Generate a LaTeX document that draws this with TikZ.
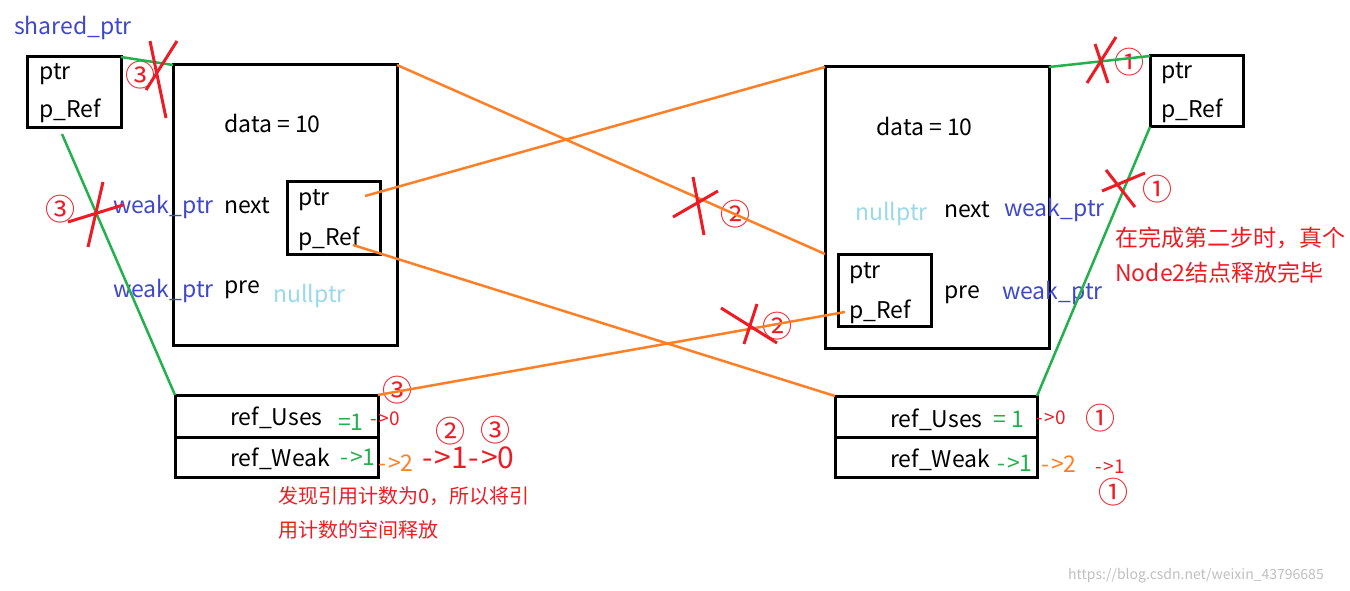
\documentclass[tikz,border=0pt]{standalone}
\usepackage{fontspec}
\setmainfont{Noto Sans CJK SC}
\usetikzlibrary{positioning}
\definecolor{ptrblue}{RGB}{63,72,204}
\definecolor{nullblue}{RGB}{153,217,234}
\definecolor{lgreen}{RGB}{34,177,76}
\definecolor{lorange}{RGB}{255,127,39}
\definecolor{lred}{RGB}{237,28,36}
\newcommand{\stepto}{-\kern2pt>}
\begin{document}
\begin{tikzpicture}[x=1pt, y=-1pt,
    box/.style={draw, line width=3pt, inner sep=0pt, outer sep=0pt, anchor=north west},
    txt/.style={inner sep=0pt, anchor=base west, font=\fontsize{23}{27}\selectfont},
    ptrtxt/.style={txt, text=ptrblue},
    nulltxt/.style={txt, text=nullblue},
    note/.style={txt, text=lred},
    num/.style={inner sep=0pt, text=lred, font=\fontsize{30}{32}\selectfont},
    glink/.style={draw=lgreen, line width=2.5pt},
    olink/.style={draw=lorange, line width=2.5pt},
    cross/.style={draw=lred, line width=3pt}]
    \useasboundingbox (0,0) rectangle (1350,591);

    % boxes
    \node[box, minimum width=94pt, minimum height=71pt] (S1) at (27,57) {};
    \node[box, minimum width=224pt, minimum height=280pt] (N1) at (173,65) {};
    \node[box, minimum width=93pt, minimum height=72pt] (I1) at (287,182) {};
    \node[box, minimum width=203pt, minimum height=42pt] (U1) at (175,395) {};
    \node[box, minimum width=203pt, minimum height=40pt] (W1) at (175,437) {};
    \node[box, minimum width=224pt, minimum height=281pt] (N2) at (825,67) {};
    \node[box, minimum width=93pt, minimum height=72pt] (I2) at (838,254) {};
    \node[box, minimum width=93pt, minimum height=71pt] (S2) at (1150,56) {};
    \node[box, minimum width=202pt, minimum height=41pt] (U2) at (835,396) {};
    \node[box, minimum width=202pt, minimum height=40pt] (W2) at (835,437) {};

    % left side texts
    \node[ptrtxt] (sh) at (14,35) {shared\_ptr};
    \node[txt] (s1p) at (39,80) {ptr};
    \node[txt] (s1r) at (39,118) {p\_Ref};
    \node[txt] (d1) at (224,133) {data = 10};
    \node[ptrtxt] (wn1) at (113,214) {weak\_ptr};
    \node[txt] (nx1) at (224,213) {next};
    \node[txt] (i1p) at (298,205) {ptr};
    \node[txt] (i1r) at (298,245) {p\_Ref};
    \node[ptrtxt] (wp1) at (113,297) {weak\_ptr};
    \node[txt] (pr1) at (224,293) {pre};
    \node[nulltxt] (nl1) at (273,302) {nullptr};
    \node[txt] (ru1) at (230,425) {ref\_Uses};
    \node[txt] (rw1) at (230,466) {ref\_Weak};
    \node[txt, text=lgreen] (cu1) at (338,430) {=1};
    \node[txt, text=lred, font=\fontsize{19}{21}\selectfont] (cu1b) at (370,425) {\stepto0};
    \node[txt, text=lgreen] (cw1) at (340,465) {\stepto1};
    \node[txt, text=lorange] (cw1b) at (378,471) {\stepto2};
    \node[txt, text=lred, font=\fontsize{30}{32}\selectfont] (cw1c) at (422,468) {\stepto1\kern1pt\stepto0};
    \node[note, font=\fontsize{20}{24}\selectfont] (m1) at (278,503) {发现引用计数为0，所以将引};
    \node[note, font=\fontsize{20}{24}\selectfont] (m2) at (278,537) {用计数的空间释放};

    % right side texts
    \node[txt] (d2) at (876,136) {data = 10};
    \node[nulltxt] (nl2) at (855,220) {nullptr};
    \node[txt] (nx2) at (944,217) {next};
    \node[ptrtxt] (wn2) at (1004,216) {weak\_ptr};
    \node[txt] (i2p) at (849,278) {ptr};
    \node[txt] (i2r) at (849,318) {p\_Ref};
    \node[txt] (pr2) at (944,298) {pre};
    \node[ptrtxt] (wp2) at (1002,299) {weak\_ptr};
    \node[txt] (s2p) at (1161,79) {ptr};
    \node[txt] (s2r) at (1161,118) {p\_Ref};
    \node[txt] (ru2) at (890,427) {ref\_Uses};
    \node[txt] (rw2) at (890,467) {ref\_Weak};
    \node[txt, text=lgreen] (cu2) at (993,427) {= 1};
    \node[txt, text=lred, font=\fontsize{19}{21}\selectfont] (cu2b) at (1036,424) {\stepto0};
    \node[txt, text=lgreen] (cw2) at (997,471) {\stepto1};
    \node[txt, text=lorange] (cw2b) at (1041,472) {\stepto2};
    \node[txt, text=lred, font=\fontsize{19}{21}\selectfont] (cw2c) at (1095,473) {\stepto1};
    \node[note] (m3) at (1115,246) {在完成第二步时，真个};
    \node[note] (m4) at (1115,281) {Node2结点释放完毕};

    % step numbers
    \node[num] (k1) at (140,75) {③};
    \node[num] (k2) at (60,209) {③};
    \node[num] (k3) at (397,390) {③};
    \node[num] (k4) at (450,431) {②};
    \node[num] (k5) at (495,430) {③};
    \node[num] (k6) at (735,214) {②};
    \node[num] (k7) at (777,326) {②};
    \node[num] (k8) at (1129,62) {①};
    \node[num] (k9) at (1157,189) {①};
    \node[num] (k10) at (1100,418) {①};
    \node[num] (k11) at (1113,492) {①};

    \node[txt, text=black!25, font=\fontsize{14}{16}\selectfont] (wm) at (1068,579) {https://blog.csdn.net/weixin\_43796685};

    % link ends
    \coordinate (s1b) at (62,134);
    \coordinate (i1pe) at (365,196);
    \coordinate (i1re) at (353,245);
    \coordinate (i2re) at (845,312);

    % green links
    \draw[glink] (S1.north east) -- (N1.north west);
    \draw[glink] (s1b) -- (U1.north west);
    \draw[glink] (N2.north east) -- (S2.north west);
    \draw[glink] (S2.south west) -- (U2.north east);

    % orange links
    \draw[olink] (N1.north east) -- (N2.west |- I2.north);
    \draw[olink] (i1pe) -- (N2.north west);
    \draw[olink] (i1re) -- (U2.north west);
    \draw[olink] (i2re) -- (U1.north east);

    % crosses
    \draw[cross] (150,41) -- (166,118);
    \draw[cross] (177,41) -- (146,90);
    \draw[cross] (103,182) -- (88,247);
    \draw[cross] (68,222) -- (123,205);
    \draw[cross] (693,177) -- (704,235);
    \draw[cross] (673,217) -- (718,191);
    \draw[cross] (757,304) -- (744,344);
    \draw[cross] (721,308) -- (777,343);
    \draw[cross] (1095,44) -- (1108,83);
    \draw[cross] (1116,37) -- (1087,83);
    \draw[cross] (1106,170) -- (1135,207);
    \draw[cross] (1102,191) -- (1145,173);
\end{tikzpicture}
\end{document}
